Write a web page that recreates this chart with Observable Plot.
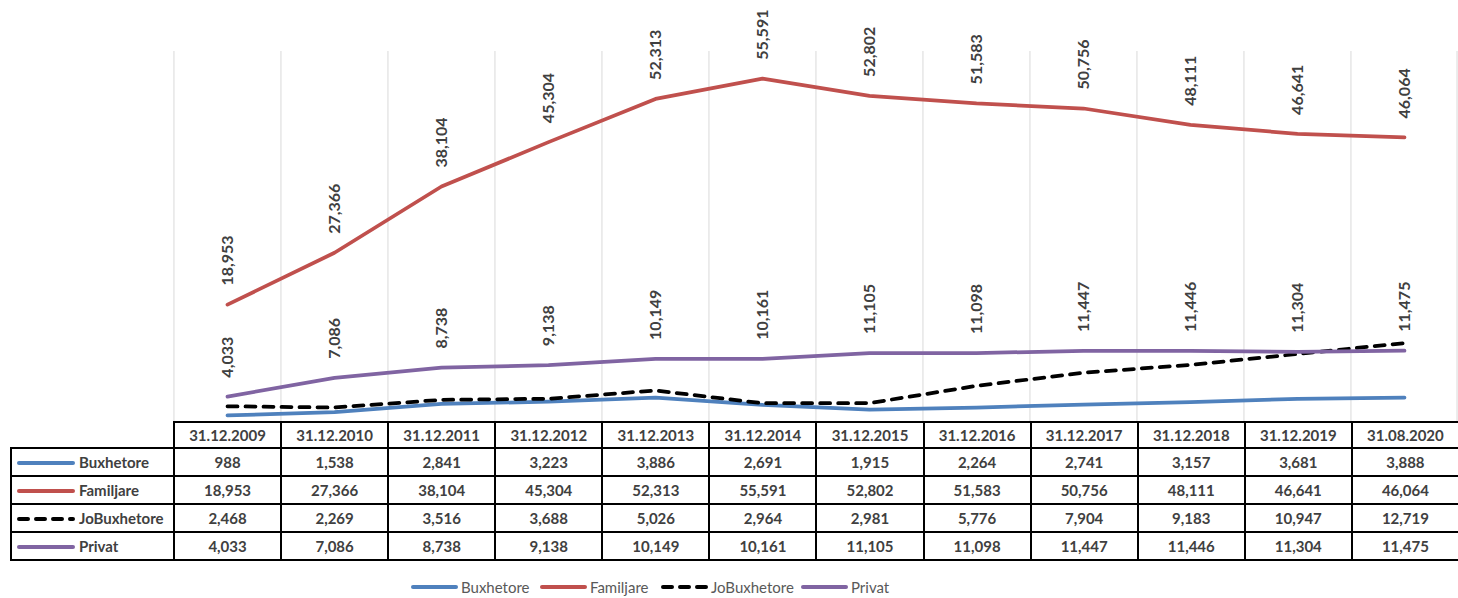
<!DOCTYPE html>
<html>
<head>
<meta charset="utf-8">
<script src="https://cdn.jsdelivr.net/npm/d3@7"></script>
<script src="https://cdn.jsdelivr.net/npm/@observablehq/plot@0.6"></script>
<style>
  html, body { margin: 0; padding: 0; background: #fff; }
  #wrap { position: relative; width: 1458px; height: 598px; font-family: Lato, "Open Sans", sans-serif; overflow: hidden; }
  #chart svg { display: block; position: absolute; left: 0; top: 0; }
  table { position: absolute; left: 10px; top: 421px; border-collapse: collapse; table-layout: fixed; width: 1448px; }
  td { border: 2px solid #000; text-align: center; font-weight: bold; font-size: 15px; color: #404040; padding: 0; white-space: nowrap; overflow: hidden; }
  tr.head td { height: 24px; }
  tr.body td { height: 26px; }
  td.corner { border-top: none; border-left: none; }
  td.name { text-align: left; padding-left: 5px; }
  td.name svg { vertical-align: middle; margin-right: 4px; position: relative; top: -1px; }
  .leg { position: absolute; top: 578px; display: flex; align-items: center; font-size: 15px; color: #595959; white-space: nowrap; }
  .leg svg { margin-right: 3px; }
</style>
</head>
<body>
<div id="wrap">
  <div id="chart"></div>
  <table id="tbl"></table>
  <div id="legend"></div>
</div>
<script>
const categories = ["31.12.2009","31.12.2010","31.12.2011","31.12.2012","31.12.2013","31.12.2014","31.12.2015","31.12.2016","31.12.2017","31.12.2018","31.12.2019","31.08.2020"];
const buxhetore   = [988, 1538, 2841, 3223, 3886, 2691, 1915, 2264, 2741, 3157, 3681, 3888];
const familjare   = [18953, 27366, 38104, 45304, 52313, 55591, 52802, 51583, 50756, 48111, 46641, 46064];
const joBuxhetore = [2468, 2269, 3516, 3688, 5026, 2964, 2981, 5776, 7904, 9183, 10947, 12719];
const privat      = [4033, 7086, 8738, 9138, 10149, 10161, 11105, 11098, 11447, 11446, 11304, 11475];
const seriesNames = ["Buxhetore", "Familjare", "JoBuxhetore", "Privat"];
const seriesValues = [buxhetore, familjare, joBuxhetore, privat];
const seriesColors = ["#4f81bd", "#c0504d", "#000000", "#8064a2"];
const seriesDash = [null, null, "10,8", null];
const labeledSeries = ["Familjare", "Privat"];

const fmt = d3.format(",");
const rows = seriesNames.flatMap((s, k) => categories.map((c, i) => ({series: s, date: c, value: seriesValues[k][i]})));

const W = 1458, H = 421, ML = 173, MR = 0, MT = 51, MB = 0;
const step = (W - ML - MR) / categories.length;

const marks = [
  Plot.ruleX(categories, {x: d => d, dx: -step / 2, stroke: "#d9d9d9", strokeWidth: 1}),
  Plot.ruleX(categories.slice(-1), {x: d => d, dx: step / 2 - 1, stroke: "#d9d9d9", strokeWidth: 1})
];
seriesNames.forEach((s, k) => {
  marks.push(Plot.line(rows.filter(r => r.series === s), {
    x: "date", y: "value", stroke: seriesColors[k], strokeWidth: 3.75,
    strokeLinecap: "round", strokeLinejoin: "round",
    strokeDasharray: seriesDash[k] || undefined
  }));
});
labeledSeries.forEach(s => {
  marks.push(Plot.text(rows.filter(r => r.series === s), {
    x: "date", y: "value", text: d => fmt(d.value), rotate: -90,
    textAnchor: "start", dy: -19, fontWeight: "bold", fontSize: 16,
    fill: "#404040", fontFamily: "Lato, 'Open Sans', sans-serif"
  }));
});

const chart = Plot.plot({
  width: W, height: H, marginLeft: ML, marginRight: MR, marginTop: MT, marginBottom: MB,
  x: {type: "point", domain: categories, padding: 0.5, axis: null},
  y: {domain: [0, 60000], axis: null},
  style: {background: "transparent", overflow: "visible"},
  marks
});
document.getElementById("chart").appendChild(chart);

function swatch(k, len) {
  const svg = d3.create("svg").attr("width", len).attr("height", 8);
  svg.append("line").attr("x1", 2).attr("x2", len - 2).attr("y1", 4).attr("y2", 4)
    .attr("stroke", seriesColors[k]).attr("stroke-width", 4).attr("stroke-linecap", "round")
    .attr("stroke-dasharray", seriesDash[k] ? "9,8" : null);
  return svg.node();
}

// Data table
const tbl = d3.select("#tbl");
const cg = tbl.append("colgroup");
cg.append("col").style("width", "163px");
categories.forEach(() => cg.append("col").style("width", step + "px"));
const head = tbl.append("tr").attr("class", "head");
head.append("td").attr("class", "corner");
categories.forEach(c => head.append("td").text(c));
seriesNames.forEach((s, k) => {
  const tr = tbl.append("tr").attr("class", "body");
  const td = tr.append("td").attr("class", "name");
  td.node().appendChild(swatch(k, 58));
  td.append("span").text(s);
  seriesValues[k].forEach(v => tr.append("td").text(fmt(v)));
});

// Legend
const legendX = [411, 540, 661, 801];
const leg = d3.select("#legend");
seriesNames.forEach((s, k) => {
  const item = leg.append("div").attr("class", "leg").style("left", legendX[k] + "px");
  item.node().appendChild(swatch(k, 47));
  item.append("span").text(s);
});
</script>
</body>
</html>
